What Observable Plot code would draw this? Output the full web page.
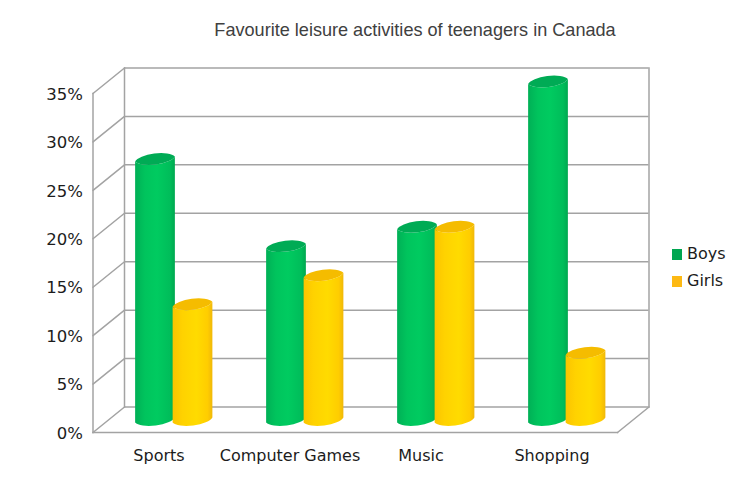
<!DOCTYPE html>
<html>
<head>
<meta charset="utf-8">
<script src="https://cdn.jsdelivr.net/npm/d3@7"></script>
<script src="https://cdn.jsdelivr.net/npm/@observablehq/plot@0.6"></script>
<style>
html,body{margin:0;padding:0;background:#fff;}
#wrap{position:relative;width:750px;height:496px;overflow:hidden;}
#title{position:absolute;left:115px;width:600px;top:20px;text-align:center;font:18.1px "Liberation Sans",sans-serif;color:#404040;}
.lg{position:absolute;left:672px;font:16px "DejaVu Sans",sans-serif;color:#1c1c1c;line-height:20px;white-space:nowrap;}
.lg i{display:inline-block;width:10px;height:11px;margin-right:5px;vertical-align:-0.5px;}
</style>
</head>
<body>
<div id="wrap">
<div id="title">Favourite leisure activities of teenagers in Canada</div>
</div>
<script>
const categories = ["Sports", "Computer Games", "Music", "Shopping"];
const boys = [27, 18, 20, 35];
const girls = [12, 15, 20, 7];
const yTicks = [0, 5, 10, 15, 20, 25, 30, 35];
const seriesNames = ["Boys", "Girls"];
const seriesSwatch = ["#00a651", "#fdb913"];
const seriesCap = ["#00ab55", "#f5bc00"];
const gridColor = "#a3a3a3";

const depthX = 31.5, depthY = -25.5;
const depthLen = Math.hypot(depthX, depthY);
const depthAngle = Math.atan2(depthX, -depthY) * 180 / Math.PI;

const defs = () => {
  const d = d3.create("svg:defs");
  const grads = [
    ["gBoys", [[0,"#00b056"],[0.25,"#00c45d"],[0.55,"#00cb60"],[0.88,"#00bd5a"],[1,"#00a850"]]],
    ["gGirls", [[0,"#fbc400"],[0.25,"#ffd200"],[0.6,"#ffdb00"],[0.88,"#ffcd00"],[1,"#f0b80a"]]]
  ];
  for (const [id, stops] of grads) {
    const g = d.append("linearGradient").attr("id", id).attr("x1", 0).attr("x2", 1).attr("y1", 0).attr("y2", 0);
    for (const [o, c] of stops) g.append("stop").attr("offset", o).attr("stop-color", c);
  }
  return d.node();
};

// Turns each bar into a cylinder with tilted elliptical ends.
const cylinder = (capColor) => function (index, scales, values, dims, ctx, next) {
  const g = next(index, scales, values, dims, ctx);
  const rx = 20.6, ry = 7.2, rot = -7, t = 2.5;
  d3.select(g).selectAll("rect").each(function () {
    const r = d3.select(this);
    const x = +r.attr("x"), y = +r.attr("y") + 0.5, w = +r.attr("width"), h = +r.attr("height") - 0.5;
    const parent = this.parentNode;
    const body = document.createElementNS("http://www.w3.org/2000/svg", "path");
    body.setAttribute("d",
      `M${x},${y + t}L${x},${y + h + t}A${rx},${ry} ${rot} 0 0 ${x + w},${y + h - t}L${x + w},${y - t}A${rx},${ry} ${rot} 0 1 ${x},${y + t}Z`);
    const cap = document.createElementNS("http://www.w3.org/2000/svg", "path");
    cap.setAttribute("d",
      `M${x},${y + t}A${rx},${ry} ${rot} 0 0 ${x + w},${y - t}A${rx},${ry} ${rot} 0 0 ${x},${y + t}Z`);
    cap.setAttribute("fill", capColor);
    parent.insertBefore(body, this);
    parent.insertBefore(cap, this);
    this.remove();
  });
  return g;
};

const edgeShape = {draw(c, l) { c.moveTo(0, 0); c.lineTo(0, -l); }};
const wall = {stroke: gridColor, strokeWidth: 1.5, strokeOpacity: 1};
const inset = (131.25 - 40) / 2;

const plot = Plot.plot({
  width: 750,
  height: 496,
  marginLeft: 92.5,
  marginRight: 133,
  marginTop: 93,
  marginBottom: 64,
  style: {background: "transparent", overflow: "visible"},
  x: {domain: categories, padding: 0, label: null},
  y: {domain: [0, 35], label: null},
  marks: [
    defs,
    Plot.ruleY(yTicks, {...wall, dx: depthX, dy: depthY}),
    Plot.frame({...wall, anchor: "left", dx: depthX, dy: depthY}),
    Plot.frame({...wall, anchor: "right", dx: depthX, dy: depthY}),
    Plot.frame({...wall, anchor: "left"}),
    Plot.frame({...wall, anchor: "bottom"}),
    Plot.vector(yTicks, {y: d => d, frameAnchor: "left", length: depthLen, rotate: depthAngle, anchor: "start", shape: edgeShape, ...wall}),
    Plot.vector([0], {y: d => d, frameAnchor: "right", length: depthLen, rotate: depthAngle, anchor: "start", shape: edgeShape, ...wall}),
    Plot.barY(categories, {x: d => d, y: (d, i) => boys[i], fill: "url(#gBoys)", insetLeft: inset, insetRight: inset, dx: -3.5, dy: -12, render: cylinder(seriesCap[0])}),
    Plot.barY(categories, {x: d => d, y: (d, i) => girls[i], fill: "url(#gGirls)", insetLeft: inset, insetRight: inset, dx: 34, dy: -12, render: cylinder(seriesCap[1])}),
    Plot.axisY(yTicks, {tickSize: 0, tickPadding: 10, dy: 1, tickFormat: d => d + "%", fontSize: 16.5, fontFamily: "DejaVu Sans", fill: "#1c1c1c", label: null}),
    Plot.axisX({tickSize: 0, tickPadding: 16, dy: 1, fontSize: 16, fontFamily: "DejaVu Sans", fill: "#1c1c1c", label: null})
  ]
});
const wrap = document.getElementById("wrap");
plot.style.position = "absolute";
plot.style.left = "0";
plot.style.top = "0";
wrap.appendChild(plot);
seriesNames.forEach((name, i) => {
  const el = document.createElement("div");
  el.className = "lg";
  el.style.top = (244 + i * 27) + "px";
  el.innerHTML = `<i style="background:${seriesSwatch[i]}"></i>${name}`;
  wrap.appendChild(el);
});
</script>
</body>
</html>
